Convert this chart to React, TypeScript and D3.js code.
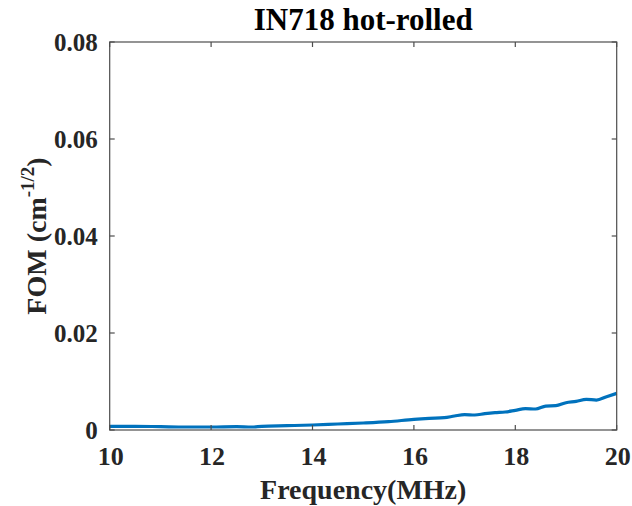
import React from "react";
import * as d3 from "d3";

const freq = [10, 10.5, 11, 11.5, 12, 12.5, 12.8, 13, 13.5, 14, 14.5, 15, 15.5, 16, 16.3, 16.6, 16.8, 17, 17.2, 17.4, 17.6, 17.8, 18, 18.2, 18.4, 18.6, 18.8, 19, 19.2, 19.4, 19.6, 19.8, 20];
const fom = [0.00076, 0.00076, 0.00069, 0.00062, 0.00062, 0.00069, 0.00062, 0.00076, 0.00089, 0.00103, 0.00124, 0.00144, 0.00172, 0.0022, 0.0024, 0.00254, 0.00288, 0.00316, 0.00309, 0.00336, 0.00357, 0.00371, 0.00405, 0.0044, 0.00433, 0.00494, 0.00501, 0.00563, 0.0059, 0.00632, 0.00618, 0.00687, 0.00755];
const xTicks = [10, 12, 14, 16, 18, 20];
const yTicks = [0, 0.02, 0.04, 0.06, 0.08];
const yTickLabels = ["0", "0.02", "0.04", "0.06", "0.08"];

export default function App() {
  const W = 632, H = 506;
  const L = 109.7, R = 616.7, T = 42, B = 430;
  const x = d3.scaleLinear().domain([10, 20]).range([L, R]);
  const y = d3.scaleLinear().domain([0, 0.08]).range([B, T]);
  const line = d3.line<number>().x((_, i) => x(freq[i])).y((d) => y(d)).curve(d3.curveMonotoneX);
  const axisColor = "#4d4d4d";
  const font = "'Liberation Serif', 'Times New Roman', serif";
  const tick = 5;
  return (
    <svg width={W} height={H} style={{ position: "absolute", left: 0, top: 0, background: "#fff" }} fontFamily={font} fontWeight="bold">
      <rect x={0} y={0} width={W} height={H} fill="#fff" />
      <path d={line(fom) || ""} fill="none" stroke="#0072BD" strokeWidth={3.2} strokeLinejoin="round" />
      <rect x={L} y={T} width={R - L} height={B - T} fill="none" stroke={axisColor} strokeWidth={1.2} />
      {xTicks.map((t) => (
        <g key={"x" + t}>
          <line x1={x(t)} x2={x(t)} y1={B} y2={B - tick} stroke={axisColor} strokeWidth={1.2} />
          <line x1={x(t)} x2={x(t)} y1={T} y2={T + tick} stroke={axisColor} strokeWidth={1.2} />
          <text x={x(t) + 1} y={B + 35} textAnchor="middle" fontSize={26} fill="#262626">{t}</text>
        </g>
      ))}
      {yTicks.map((t, i) => (
        <g key={"y" + t}>
          <line x1={L} x2={L + tick} y1={y(t)} y2={y(t)} stroke={axisColor} strokeWidth={1.2} />
          <line x1={R} x2={R - tick} y1={y(t)} y2={y(t)} stroke={axisColor} strokeWidth={1.2} />
          <text x={L - 12} y={y(t) + 9} textAnchor="end" fontSize={25} fill="#262626">{yTickLabels[i]}</text>
        </g>
      ))}
      <text x={(L + R) / 2} y={30} textAnchor="middle" fontSize={31} fill="#000">IN718 hot-rolled</text>
      <text x={(L + R) / 2} y={499} textAnchor="middle" fontSize={28} fill="#262626">Frequency(MHz)</text>
      <text transform={`translate(46, ${(T + B) / 2}) rotate(-90)`} textAnchor="middle" fontSize={28} fill="#262626">
        FOM (cm<tspan dy={-12} fontSize={19}>-1/2</tspan><tspan dy={12}>)</tspan>
      </text>
    </svg>
  );
}
